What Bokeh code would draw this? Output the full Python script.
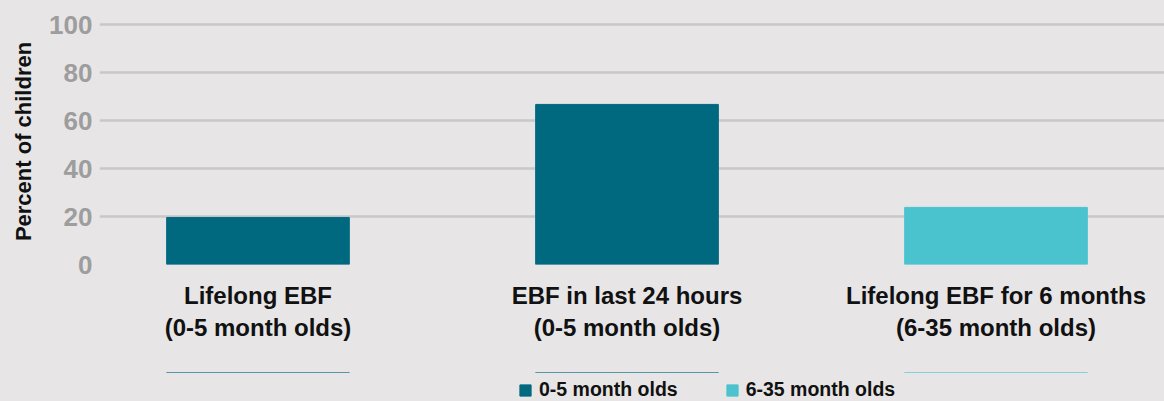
from bokeh.plotting import figure
from bokeh.layouts import column
from bokeh.models import ColumnDataSource, FixedTicker, Range1d, Legend, LegendItem
from bokeh.embed import file_html
from bokeh.resources import INLINE

categories = ["Lifelong EBF\n(0-5 month olds)",
              "EBF in last 24 hours\n(0-5 month olds)",
              "Lifelong EBF for 6 months\n(6-35 month olds)"]
values = [19.6, 66.7, 23.8]
groups = ["0-5 month olds", "0-5 month olds", "6-35 month olds"]
group_colors = {"0-5 month olds": "#006980", "6-35 month olds": "#4ac3cf"}
y_ticks = [0, 20, 40, 60, 80, 100]

BG = "#e7e5e6"
xs = list(range(len(categories)))
src = ColumnDataSource(dict(x=xs, top=values, group=groups,
                            color=[group_colors[g] for g in groups]))

p = figure(width=1164, height=372, output_backend="svg", toolbar_location=None,
           x_range=Range1d(-0.4295, 2.4566), y_range=Range1d(0, 102.5),
           min_border_left=99, min_border_right=0, min_border_top=18,
           min_border_bottom=108,
           background_fill_color=BG, border_fill_color=BG, outline_line_color=None)

r = p.vbar(x="x", top="top", width=0.495, color="color", source=src)

# grid
p.xgrid.visible = False
p.ygrid.ticker = FixedTicker(ticks=y_ticks)
p.ygrid.grid_line_color = "#c8c8c8"
p.ygrid.grid_line_width = 2.5

# y axis
p.yaxis.ticker = FixedTicker(ticks=y_ticks)
p.yaxis.axis_line_color = None
p.yaxis.major_tick_line_color = None
p.yaxis.minor_tick_line_color = None
p.yaxis.major_tick_out = 0
p.yaxis.major_label_text_font = "Liberation Sans"
p.yaxis.major_label_text_font_style = "bold"
p.yaxis.major_label_text_font_size = "26px"
p.yaxis.major_label_text_color = "#9d9d9d"
p.yaxis.major_label_standoff = 7
p.yaxis.axis_label = "Percent of children"
p.yaxis.axis_label_text_font = "Liberation Sans"
p.yaxis.axis_label_text_font_style = "bold"
p.yaxis.axis_label_text_font_size = "22px"
p.yaxis.axis_label_text_color = "#111111"
p.yaxis.axis_label_standoff = 10

# x axis
p.xaxis.ticker = FixedTicker(ticks=xs)
p.xaxis.major_label_overrides = {i: c for i, c in zip(xs, categories)}
p.xaxis.axis_line_color = None
p.xaxis.major_tick_line_color = None
p.xaxis.minor_tick_line_color = None
p.xaxis.major_tick_out = 0
p.xaxis.major_label_text_font = "Liberation Sans"
p.xaxis.major_label_text_font_style = "bold"
p.xaxis.major_label_text_font_size = "24px"
p.xaxis.major_label_text_color = "#111111"
p.xaxis.major_label_standoff = 17

# legend strip: same data source, ranges keep the bars out of view,
# so only the legend (swatches + labels) is visible
lg = figure(width=1164, height=29, output_backend="svg", toolbar_location=None,
            x_range=p.x_range, y_range=Range1d(-100, -90),
            min_border_left=0, min_border_right=0, min_border_top=0, min_border_bottom=0,
            background_fill_color=BG, border_fill_color=BG, outline_line_color=None)
lr = lg.vbar(x="x", top="top", width=0.495, color="color", source=src)
lg.axis.visible = False
lg.grid.visible = False

legend = Legend(items=[LegendItem(label=groups[0], renderers=[lr], index=0),
                       LegendItem(label=groups[2], renderers=[lr], index=2)],
                orientation="horizontal", location=(419, 0),
                background_fill_alpha=0, border_line_color=None,
                label_text_font="Liberation Sans", label_text_font_style="bold",
                label_text_font_size="19.5px", label_text_color="#111111",
                label_height=18, glyph_width=14, glyph_height=14,
                spacing=47, label_standoff=7, margin=0, padding=3)
lg.add_layout(legend, "center")

layout = column(p, lg, spacing=0)

html = file_html(layout, INLINE)
html = html.replace("<head>", "<head><style>body{background:%s;}</style>" % BG, 1)
open("out.html", "w").write(html)
